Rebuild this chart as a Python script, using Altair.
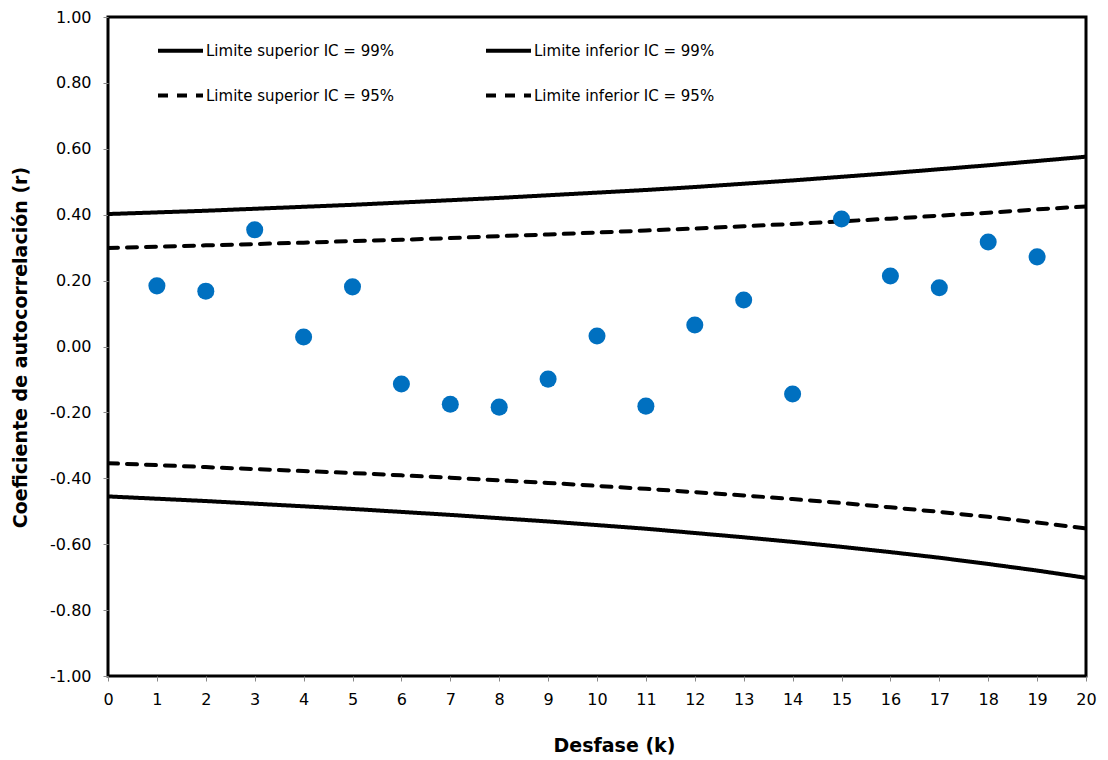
import altair as alt
import pandas as pd

# Lags for the confidence limit curves
k_lines = list(range(21))
sup99 = [0.402, 0.407, 0.412, 0.418, 0.424, 0.430, 0.437, 0.444, 0.451, 0.459, 0.467,
         0.475, 0.484, 0.494, 0.504, 0.515, 0.526, 0.538, 0.550, 0.563, 0.576]
inf99 = [-0.455, -0.462, -0.469, -0.477, -0.485, -0.493, -0.502, -0.511, -0.521, -0.531, -0.542,
         -0.553, -0.566, -0.579, -0.593, -0.608, -0.624, -0.641, -0.660, -0.680, -0.702]
sup95 = [0.299, 0.303, 0.307, 0.311, 0.315, 0.320, 0.324, 0.329, 0.335, 0.340, 0.346,
         0.352, 0.358, 0.365, 0.372, 0.380, 0.388, 0.397, 0.406, 0.416, 0.425]
inf95 = [-0.354, -0.360, -0.366, -0.372, -0.378, -0.384, -0.391, -0.398, -0.406, -0.414, -0.423,
         -0.432, -0.442, -0.452, -0.463, -0.475, -0.488, -0.502, -0.517, -0.534, -0.552]

# Autocorrelation coefficients
lags = list(range(1, 20))
r_vals = [0.184, 0.168, 0.354, 0.029, 0.181, -0.114, -0.175, -0.184, -0.099, 0.032,
          -0.181, 0.065, 0.141, -0.144, 0.387, 0.214, 0.178, 0.317, 0.272]

series_names = ["Limite superior IC = 99%", "Limite inferior IC = 99%",
                "Limite superior IC = 95%", "Limite inferior IC = 95%"]

rows = []
for name, vals in zip(series_names, [sup99, inf99, sup95, inf95]):
    for k, v in zip(k_lines, vals):
        rows.append({"k": k, "r": v, "serie": name})
lines_df = pd.DataFrame(rows)
pts_df = pd.DataFrame({"k": lags, "r": r_vals})

FONT = "DejaVu Sans"

x_enc = alt.X("k:Q", scale=alt.Scale(domain=[0, 20], nice=False),
              axis=alt.Axis(values=list(range(21)), title="Desfase  (k)",
                            titleX=506, titleY=69, titleBaseline="middle",
                            titleFontSize=19, titleFontWeight="bold", titleFont=FONT,
                            labelFontSize=16, labelFont=FONT, labelColor="black",
                            labelFlush=False,
                            labelPadding=10, tickSize=5, tickColor="#888888",
                            domain=False, grid=False))
y_enc = alt.Y("r:Q", scale=alt.Scale(domain=[-1, 1], nice=False),
              axis=alt.Axis(values=[-1 + 0.2 * i for i in range(11)],
                            labelExpr="replace(format(datum.value, '.2f'), '\u2212', '-')",
                            title="Coeficiente de autocorrelación (r)",
                            titleX=-88, titleY=330, titleAngle=-90, titleAlign="center",
                            titleBaseline="middle",
                            titleFontSize=19, titleFontWeight="bold", titleFont=FONT,
                            labelFontSize=16, labelFont=FONT, labelColor="black",
                            labelFlush=False,
                            labelPadding=12, tickSize=5, tickColor="#888888",
                            domain=False, grid=False))

lines = alt.Chart(lines_df).mark_line(color="black", strokeWidth=4, strokeCap="round", clip=True).encode(
    x=x_enc,
    y=y_enc,
    detail="serie:N",
    strokeDash=alt.StrokeDash(
        "serie:N",
        scale=alt.Scale(domain=series_names, range=[[1, 0], [1, 0], [10, 9], [10, 9]]),
        legend=alt.Legend(title=None, orient="none", legendX=48, legendY=9, columns=2,
                          direction="horizontal",
                          symbolType="stroke", symbolSize=2025, symbolStrokeWidth=4,
                          symbolStrokeColor="black", labelFontSize=15, labelFont=FONT,
                          labelColor="black",
                          labelLimit=400, labelOffset=1, rowPadding=12, columnPadding=83,
                          padding=0),
    ),
)

points = alt.Chart(pts_df).mark_circle(color="#0070C0", size=290, opacity=1).encode(
    x="k:Q", y="r:Q"
)

chart = alt.layer(lines, points).properties(
    width=978, height=659,
    padding={"left": 100, "top": 9, "right": 14, "bottom": 83},
    autosize="none",
).configure(background="white").configure_view(stroke="black", strokeWidth=3)

chart.save("out.html", embed_options={"renderer": "svg", "actions": False})
